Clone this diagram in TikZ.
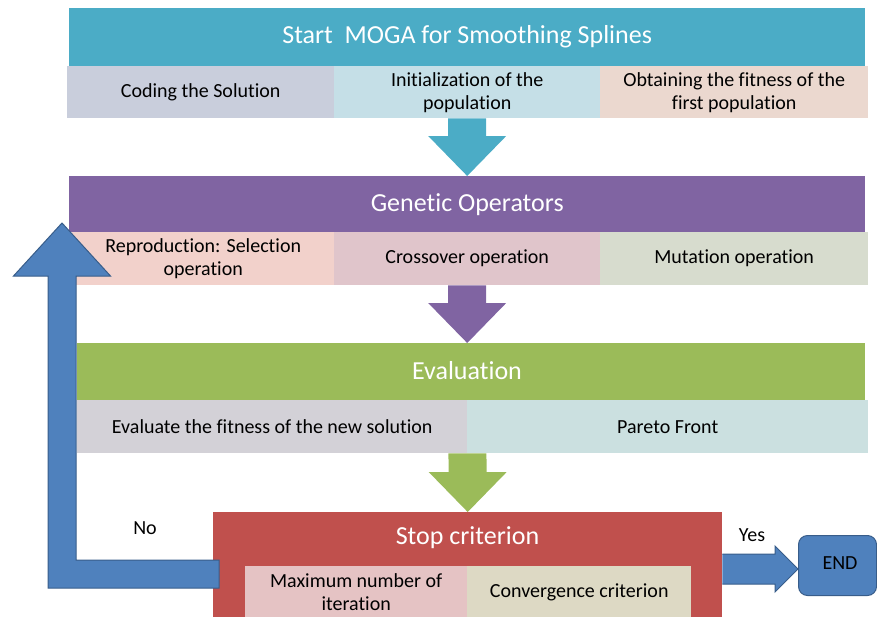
\documentclass[tikz,border=0pt]{standalone}
\usepackage{fontspec}
\setmainfont{Carlito}[Ligatures=CommonOff]
\usetikzlibrary{calc}
\definecolor{tealbar}{HTML}{4BACC6}
\definecolor{purplebar}{HTML}{8064A2}
\definecolor{greenbar}{HTML}{9BBB59}
\definecolor{redbar}{HTML}{C0504D}
\definecolor{bluearrow}{HTML}{4F81BD}
\definecolor{blueline}{HTML}{385D8A}
\definecolor{ca}{HTML}{C9CEDC}
\definecolor{cb}{HTML}{C5DFE7}
\definecolor{cc}{HTML}{EBD8CF}
\definecolor{cd}{HTML}{F2D1CB}
\definecolor{ce}{HTML}{E0C5CB}
\definecolor{cf}{HTML}{D7DCCE}
\definecolor{cg}{HTML}{D3D1D7}
\definecolor{ch}{HTML}{CBE0E0}
\definecolor{ci}{HTML}{E5C3C4}
\definecolor{cj}{HTML}{DDD9C4}
\newcommand\blockdown[3]{%
  \fill[#3] ($(#1)+(-19pt,0pt)$) -- ($(#2)+(-19pt,40pt)$) -- ($(#2)+(-39pt,40pt)$) -- (#2)
    -- ($(#2)+(39pt,40pt)$) -- ($(#2)+(19pt,40pt)$) -- ($(#1)+(19pt,0pt)$) -- cycle;}
\begin{document}
\begin{tikzpicture}[x=1pt,y=-1pt,
  bar/.style={anchor=north west, inner sep=0pt, text=white, font=\fontsize{26}{30}\selectfont},
  cell/.style={anchor=north west, inner sep=0pt, text=black, align=center, font=\fontsize{20}{23}\selectfont},
  lbl/.style={inner sep=0pt, text=black, font=\fontsize{20}{23}\selectfont},
  ttl/.style={inner sep=0pt, text=white, font=\fontsize{26}{30}\selectfont},
  blockarrow/.style={fill=bluearrow, draw=blueline, line width=1pt, line join=miter},
]
\useasboundingbox (0,0) rectangle (877,616);

% Start
\node[bar, fill=tealbar, minimum width=796pt, minimum height=58pt] (start) at (69,8) {Start\ \ MOGA for Smoothing Splines};
\node[cell, fill=ca, minimum width=267pt, minimum height=52pt] (s1) at (67,66) {Coding the Solution};
\node[cell, fill=cb, minimum width=266pt, minimum height=52pt] (s2) at (334,66) {Initialization of the\\population};
\node[cell, fill=cc, minimum width=268pt, minimum height=52pt] (s3) at (600,66) {Obtaining the fitness of the\\first population};

% Genetic operators
\node[bar, fill=purplebar, minimum width=796pt, minimum height=56pt] (gen) at (69,176) {Genetic Operators};
\node[cell, fill=cd, minimum width=262pt, minimum height=53pt] (g1) at (72,232) {Reproduction: Selection\\operation};
\node[cell, fill=ce, minimum width=266pt, minimum height=53pt] (g2) at (334,232) {Crossover operation};
\node[cell, fill=cf, minimum width=268pt, minimum height=53pt] (g3) at (600,232) {Mutation operation};

% Evaluation
\node[bar, fill=greenbar, minimum width=788pt, minimum height=57pt] (eval) at (77,343) {};
\node[ttl] (evaltext) at (467,371) {Evaluation};
\node[cell, fill=cg, minimum width=390pt, minimum height=53pt] (e1) at (77,400) {Evaluate the fitness of the new solution};
\node[cell, fill=ch, minimum width=401pt, minimum height=53pt] (e2) at (467,400) {Pareto Front};

% Stop criterion
\node[bar, fill=redbar, minimum width=509pt, minimum height=110pt] (stop) at (213,512) {};
\node[ttl] (stoptext) at (467.5,538) {Stop criterion};
\node[cell, fill=ci, minimum width=222pt, minimum height=52pt] (st1) at (245,566) {Maximum number of\\iteration};
\node[cell, fill=cj, minimum width=224pt, minimum height=52pt] (st2) at (467,566) {Convergence criterion};

% END
\node[lbl, fill=bluearrow, draw=blueline, line width=1pt, rounded corners=9pt, anchor=north west,
      minimum width=78pt, minimum height=60pt, text depth=0pt] (endbox) at (798,535) {};
\node[lbl] (endtext) at (840,563) {END};

% down arrows
\blockdown{s2.south}{gen.north -| s2.south}{tealbar}
\blockdown{g2.south}{eval.north -| g2.south}{purplebar}
\blockdown{e1.south east}{stop.north}{greenbar}

% Yes arrow
\coordinate (ys) at ($(stop.north east)+(0,57)$);
\coordinate (yt) at (endbox.west |- ys);
\draw[blockarrow] ($(ys)+(0pt,15pt)$) -- ($(yt)+(-23pt,15pt)$) -- ($(yt)+(-23pt,23pt)$) -- (yt)
   -- ($(yt)+(-23pt,-23pt)$) -- ($(yt)+(-23pt,-15pt)$) -- ($(ys)+(0pt,-15pt)$);

% No loop arrow
\coordinate (ns) at ($(stop.north west)+(6,62)$);
\coordinate (nt) at (62,223);
\draw[blockarrow] ($(ns)+(0pt,14pt)$) -- ($(nt |- ns)+(14pt,14pt)$) -- ($(nt)+(14pt,-53pt)$)
   -- ($(nt)+(48.5pt,-53pt)$) -- (nt) -- ($(nt)+(-48.5pt,-53pt)$) -- ($(nt)+(-14pt,-53pt)$)
   -- ($(nt |- ns)+(-14pt,-14pt)$) -- ($(ns)+(0pt,-14pt)$) -- cycle;

% labels
\node[lbl] (no) at (145,528) {No};
\node[lbl] (yes) at (752,535) {Yes};
\end{tikzpicture}
\end{document}
